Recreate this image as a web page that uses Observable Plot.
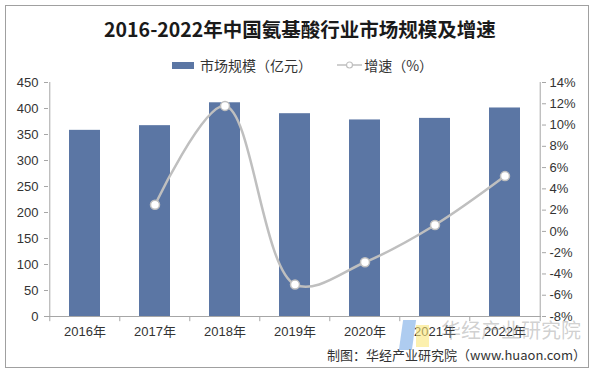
<!DOCTYPE html>
<html><head><meta charset="utf-8">
<script src="https://cdn.jsdelivr.net/npm/d3@7"></script>
<script src="https://cdn.jsdelivr.net/npm/@observablehq/plot@0.6"></script>
<style>
body{margin:0;background:#fff;}
#wrap{position:relative;width:600px;height:376px;overflow:hidden;font-family:"Liberation Sans","Noto Sans CJK SC",sans-serif;color:#333;}
#frame{position:absolute;left:5px;top:5px;width:584px;height:363px;border:1px solid #a0a0a0;box-sizing:border-box;}
#title{position:absolute;left:0;width:600px;top:14px;text-align:center;font-family:"Noto Sans CJK SC",sans-serif;font-weight:bold;font-size:19.5px;color:#1a1a1a;}
#legend{position:absolute;top:53px;left:172px;height:20px;font-family:"Noto Sans CJK SC",sans-serif;font-size:14px;line-height:20px;color:#333;white-space:nowrap;}
#legend span{display:inline-block;vertical-align:middle;}
#chart{position:absolute;left:0;top:72px;}
#caption{position:absolute;right:14px;top:345px;font-family:"Noto Sans CJK SC",sans-serif;font-size:13px;color:#333;}
#wm{position:absolute;left:441px;top:317px;font-family:"Noto Sans CJK SC",sans-serif;font-size:20px;line-height:26px;color:rgba(150,150,150,0.45);}
#logo1{position:absolute;left:401px;top:320px;width:13px;height:30px;background:rgba(120,170,230,0.6);transform:skewX(-8deg);}
#logo2{position:absolute;left:416px;top:325px;width:13px;height:22px;background:rgba(250,230,120,0.6);}
</style></head>
<body>
<div id="wrap">
<div id="frame"></div>
<div id="title">2016-2022年中国氨基酸行业市场规模及增速</div>
<div id="legend">
<span style="width:22px;height:7px;background:#5b76a4;margin-right:6px"></span><span>市场规模（亿元）</span>
<span style="width:25px;margin-left:22px;height:10px"><svg width="25" height="10" style="display:block"><line x1="0" y1="5" x2="25" y2="5" stroke="#bfbfbf" stroke-width="1.5"/><circle cx="12.5" cy="5" r="3" fill="#fff" stroke="#bfbfbf" stroke-width="1.2"/></svg></span><span style="margin-left:2px">增速（%）</span>
</div>
<div id="chart"></div>
<div id="logo1"></div><div id="logo2"></div>
<div id="wm">华经产业研究院</div>
<div id="caption">制图：华经产业研究院（www.huaon.com）</div>
</div>
<script>
const years = ["2016年","2017年","2018年","2019年","2020年","2021年","2022年"];
const marketSize = [358, 367, 411, 390, 378, 381, 401];
const growth = [null, 2.5, 11.8, -5.0, -2.9, 0.6, 5.2];
const pctTicks = [-8,-6,-4,-2,0,2,4,6,8,10,12,14];
const leftTicks = [0,50,100,150,200,250,300,350,400,450];

const yMax = 450, pMin = -8, pMax = 14;
const toY = p => (p - pMin) / (pMax - pMin) * yMax;

const bars = years.map((y,i) => ({year:y, value:marketSize[i]}));
const line = years.map((y,i) => ({year:y, g:growth[i]})).filter(d => d.g != null);

const axisColor = "#a6a6a6";
const W = 600, mL = 48, mR = 59;
const half = (W - mL - mR) / years.length / 2;
const plot = Plot.plot({
  width: W, height: 290,
  marginLeft: mL, marginRight: mR, marginTop: 10, marginBottom: 46,
  style: {fontFamily: '"Liberation Sans","Noto Sans CJK SC",sans-serif', fontSize: "13px", color: "#333", background: "transparent"},
  x: {domain: years, paddingInner: 0.56, paddingOuter: 0.28, label: null},
  y: {domain: [0, yMax], label: null},
  marks: [
    Plot.barY(bars, {x: "year", y: "value", fill: "#5b76a4"}),
    Plot.ruleY([0], {stroke: axisColor, strokeWidth: 1}),
    Plot.ruleX(years, {x: d => d, y1: 0, y2: -10, dx: -half, stroke: axisColor}),
    Plot.ruleX([years[6]], {x: d => d, y1: 0, y2: -10, dx: half, stroke: axisColor}),
    Plot.axisX({tickSize: 0, tickPadding: 10, fontSize: 13, fill: "#333"}),
    Plot.axisY(leftTicks, {anchor: "left", tickSize: 4, tickPadding: 6, stroke: axisColor, fill: "#333", label: null}),
    Plot.ruleX([years[0]], {x: d => d, y1: 0, y2: yMax, dx: -half, stroke: axisColor}),
    Plot.axisY(pctTicks.map(toY), {anchor: "right", tickSize: 4, tickPadding: 4, stroke: axisColor, fill: "#333", label: null,
      tickFormat: v => Math.round(v / yMax * (pMax - pMin) + pMin) + "%"}),
    Plot.ruleX([years[6]], {x: d => d, y1: 0, y2: yMax, dx: half, stroke: axisColor}),
    Plot.line(line, {x: "year", y: d => toY(d.g), stroke: "#bfbfbf", strokeWidth: 2.5, curve: "catmull-rom"}),
    Plot.dot(line, {x: "year", y: d => toY(d.g), r: 4.5, fill: "#fff", stroke: "#bfbfbf", strokeWidth: 1.5})
  ]
});
document.getElementById("chart").appendChild(plot);
</script>
</body></html>
